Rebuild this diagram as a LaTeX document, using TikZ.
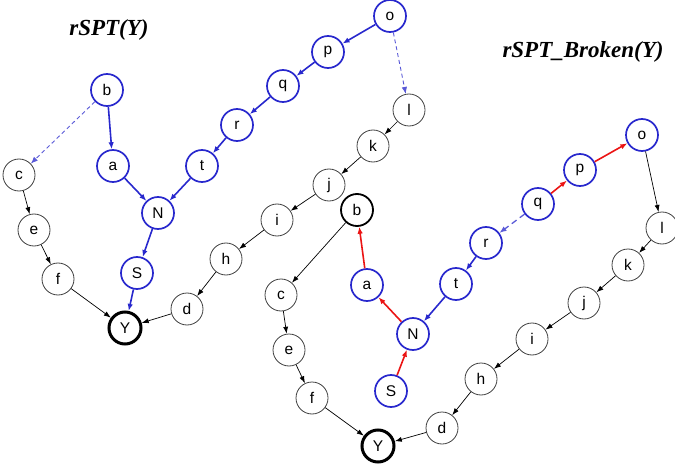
\documentclass[tikz,border=0pt]{standalone}
\usepackage{fontspec}
\setmainfont{Liberation Sans}
\newfontfamily\titlefont{Liberation Serif}
\usetikzlibrary{arrows.meta,positioning}

\definecolor{treeblue}{RGB}{40,40,205}
\definecolor{dashblue}{RGB}{90,90,215}
\definecolor{brokenred}{RGB}{235,20,20}

\begin{document}
\begin{tikzpicture}[x=1pt,y=-1pt,
    vtx/.style={circle,draw=black!75,line width=0.8pt,minimum size=32pt,inner sep=0pt,font=\fontsize{15.5}{15.5}\selectfont},
    bvtx/.style={vtx,draw=treeblue,line width=1.7pt},
    root/.style={vtx,draw=black,line width=3pt},
    hub/.style={vtx,draw=black,line width=1.8pt},
    blk/.style={-{Latex[length=7pt,width=5pt]},black,line width=0.7pt},
    blu/.style={-{Latex[length=7pt,width=5.5pt]},treeblue,line width=1.6pt},
    dsh/.style={-{Latex[length=7pt,width=5.5pt]},dashblue,line width=0.9pt,dash pattern=on 4pt off 3pt},
    rdd/.style={-{Latex[length=7pt,width=5.5pt]},brokenred,line width=1.6pt},
    ttl/.style={font=\titlefont\bfseries\itshape\fontsize{23}{23}\selectfont}]

\useasboundingbox (0,0) rectangle (675,468);

% ---- rSPT(Y)
\node[ttl] (ltitle) at (109,30) {rSPT(Y)};

\foreach \n/\x/\y in {b/107/90,a/113/166,N/158/213,S/137/273,t/202/166,r/237/125,q/283/86,p/328/52,o/390/16}
    \node[bvtx] (L\n) at (\x,\y) {\n};
\foreach \n/\x/\y in {c/19/175,e/34/230,f/58/279,l/409/110,k/373/146,j/329/185,i/277/220,h/226/259,d/187/309}
    \node[vtx] (L\n) at (\x,\y) {\n};
\node[root] (LY) at (125,328) {Y};

\foreach \s/\t in {o/p,p/q,q/r,r/t,t/N,b/a,a/N,N/S,S/Y}
    \draw[blu] (L\s) -- (L\t);
\foreach \s/\t in {c/e,e/f,f/Y,l/k,k/j,j/i,i/h,h/d,d/Y}
    \draw[blk] (L\s) -- (L\t);
\draw[dsh] (Lb) -- (Lc);
\draw[dsh] (Lo) -- (Ll);

% ---- rSPT_Broken(Y)
\node[ttl] (rtitle) at (583,52) {rSPT\_Broken(Y)};

\foreach \n/\x/\y in {a/367/285,N/413/334,S/391/391,t/456/284,r/486/243,q/538/204,p/580/170,o/642/135}
    \node[bvtx] (R\n) at (\x,\y) {\n};
\foreach \n/\x/\y in {c/281/295,e/289/350,f/312/398,l/662/228,k/628/265,j/584/303,i/532/339,h/481/379,d/442/428}
    \node[vtx] (R\n) at (\x,\y) {\n};
\node[hub] (Rb) at (357,210) {b};
\node[root] (RY) at (378,446) {Y};

\foreach \s/\t in {S/N,N/a,a/b,q/p,p/o}
    \draw[rdd] (R\s) -- (R\t);
\foreach \s/\t in {r/t,t/N}
    \draw[blu] (R\s) -- (R\t);
\foreach \s/\t in {b/c,c/e,e/f,f/Y,o/l,l/k,k/j,j/i,i/h,h/d,d/Y}
    \draw[blk] (R\s) -- (R\t);
\draw[dsh,line width=1.3pt,dash pattern=on 6pt off 4pt] (Rq) -- (Rr);

\end{tikzpicture}
\end{document}
